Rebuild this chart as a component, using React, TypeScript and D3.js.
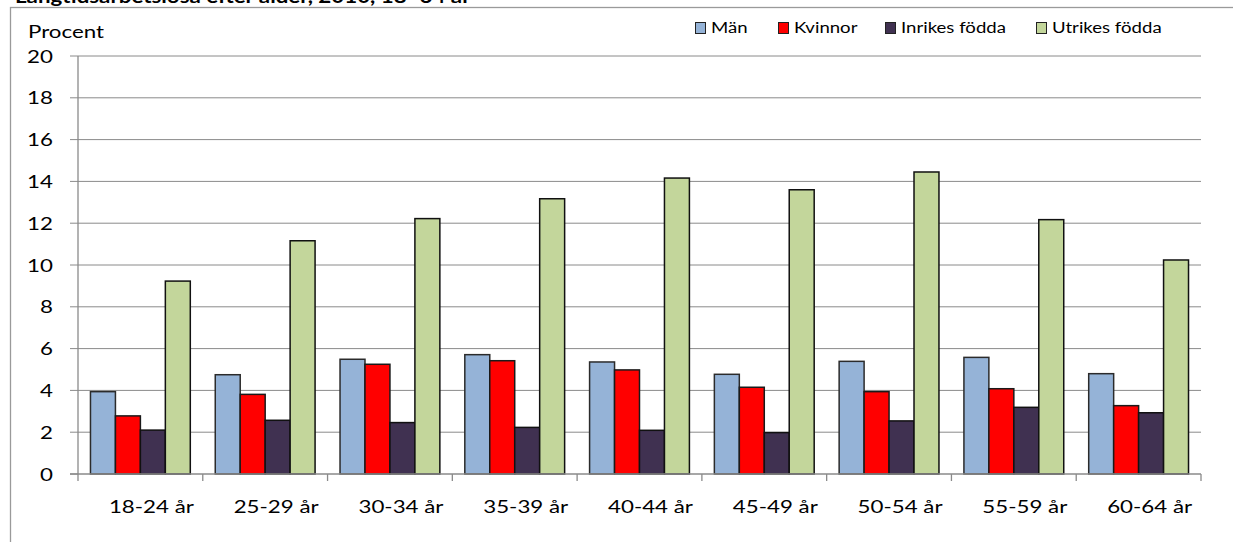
import React from "react";
import * as d3 from "d3";

const categories = ["18-24 år", "25-29 år", "30-34 år", "35-39 år", "40-44 år", "45-49 år", "50-54 år", "55-59 år", "60-64 år"];
const seriesNames = ["Män", "Kvinnor", "Inrikes födda", "Utrikes födda"];
const man = [3.94, 4.75, 5.49, 5.71, 5.36, 4.77, 5.39, 5.58, 4.8];
const kvinnor = [2.78, 3.81, 5.25, 5.42, 4.98, 4.15, 3.94, 4.08, 3.27];
const inrikes = [2.1, 2.57, 2.46, 2.23, 2.09, 1.98, 2.54, 3.19, 2.93];
const utrikes = [9.23, 11.16, 12.22, 13.17, 14.16, 13.6, 14.45, 12.17, 10.24];
const yTicks = [0, 2, 4, 6, 8, 10, 12, 14, 16, 18, 20];
const colors = ["#95B3D7", "#FF0000", "#403151", "#C3D69B"];
const strokes = ["#2b2b2b", "#1a1a1a", "#111111", "#111111"];

const W = 1233;
const H = 542;
const left = 78;
const right = 1201;
const top = 56;
const bottom = 474;
const font = "Lato, 'Open Sans', sans-serif";
const SX = 1.24;

function T({ x, y, anchor = "start", size, children, bold = false }: { x: number; y: number; anchor?: string; size: number; children: React.ReactNode; bold?: boolean }) {
  return (
    <g transform={`translate(${x},${y}) scale(${SX},1)`}>
      <text x={0} y={0} textAnchor={anchor as any} fontSize={size} fill="#000" fontWeight={bold ? "bold" : "normal"}>
        {children}
      </text>
    </g>
  );
}

export default function App() {
  const series = [man, kvinnor, inrikes, utrikes];
  const x0 = d3.scaleBand<string>().domain(categories).range([left, right]).paddingInner(0).paddingOuter(0);
  const bw = x0.bandwidth();
  const x1 = d3
    .scaleBand<number>()
    .domain([0, 1, 2, 3])
    .range([bw * 0.1, bw * 0.9])
    .padding(0);
  const y = d3.scaleLinear().domain([0, 20]).range([bottom, top]);

  const legendX = [695, 778, 885, 1036];

  return (
    <svg width={W} height={H} style={{ position: "absolute", left: 0, top: 0, background: "#fff" }} fontFamily={font}>
      <T x={15} y={3} size={18} bold>
        Långtidsarbetslösa efter ålder, 2010, 18–64 år
      </T>
      <rect x={10.5} y={7.5} width={1300} height={600} fill="#fff" stroke="#9a9a9a" strokeWidth={1.3} />

      {/* gridlines */}
      {yTicks.map((t) => (
        <g key={t}>
          {t > 0 && <line x1={left} x2={right} y1={y(t)} y2={y(t)} stroke="#8a8a8a" strokeWidth={1} />}
          <line x1={70} x2={left} y1={y(t)} y2={y(t)} stroke="#8a8a8a" strokeWidth={1} />
          <T x={53} y={y(t) + 6.5} anchor="end" size={18}>
            {t}
          </T>
        </g>
      ))}
      <T x={28} y={38} size={18}>
        Procent
      </T>

      {/* bars */}
      {categories.map((c, i) => (
        <g key={c} transform={`translate(${x0(c)},0)`}>
          {series.map((s, k) => (
            <rect
              key={k}
              x={x1(k)}
              y={y(s[i])}
              width={x1.bandwidth()}
              height={y(0) - y(s[i])}
              fill={colors[k]}
              stroke={strokes[k]}
              strokeWidth={1.5}
            />
          ))}
        </g>
      ))}

      {/* axes */}
      <line x1={left} x2={left} y1={top} y2={bottom + 7} stroke="#8a8a8a" strokeWidth={1.3} />
      <line x1={70} x2={right} y1={bottom} y2={bottom} stroke="#8a8a8a" strokeWidth={1.3} />
      {categories.map((c, i) => (
        <line key={"t" + i} x1={(x0(c) as number) + bw} x2={(x0(c) as number) + bw} y1={bottom} y2={bottom + 7} stroke="#8a8a8a" strokeWidth={1.3} />
      ))}
      {categories.map((c) => (
        <T key={"l" + c} x={(x0(c) as number) + bw / 2 + 11} y={513} anchor="middle" size={18}>
          {c}
        </T>
      ))}

      {/* legend */}
      {seriesNames.map((n, k) => (
        <g key={n}>
          <rect x={legendX[k] + 0.5} y={22.5} width={10} height={11} fill={colors[k]} stroke="#222" strokeWidth={1} />
          <T x={legendX[k] + 16} y={33} size={15}>
            {n}
          </T>
        </g>
      ))}
    </svg>
  );
}
